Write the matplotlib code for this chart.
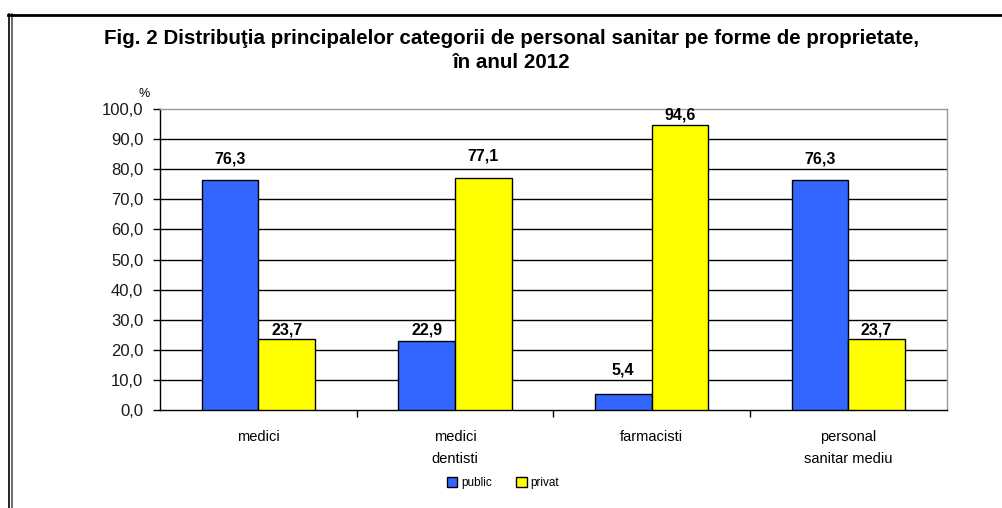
import matplotlib
matplotlib.use("Agg")
import matplotlib.pyplot as plt
from matplotlib.lines import Line2D
from matplotlib.patches import Patch
import numpy as np

categories = ["medici", "medici\ndentisti", "farmacisti", "personal\nsanitar mediu"]
public = [76.3, 22.9, 5.4, 76.3]
privat = [23.7, 77.1, 94.6, 23.7]
series_names = ["public", "privat"]
yticks = [0, 10, 20, 30, 40, 50, 60, 70, 80, 90, 100]

def fmt(v):
    return f"{v:.1f}".replace(".", ",")

plt.rcParams['font.family'] = ['Liberation Sans', 'DejaVu Sans']

fig = plt.figure(figsize=(10.02, 5.08), dpi=100)
ax = fig.add_axes([160/1002, 1-410/508, (946.5-160)/1002, (410-109)/508])

x = np.arange(len(categories))
w = 0.288
b1 = ax.bar(x - w/2, public, w, color="#3366FF", edgecolor="black", linewidth=1, zorder=3)
b2 = ax.bar(x + w/2, privat, w, color="#FFFF00", edgecolor="black", linewidth=1, zorder=3)

# label offsets above bar tops (points), as placed in the original
pub_off = [15.5, 8, 17, 15.5]
priv_off = [6.5, 16, 7.5, 6.5]
for bars, vals, offs in ((b1, public, pub_off), (b2, privat, priv_off)):
    for r, v, o in zip(bars, vals, offs):
        ax.annotate(fmt(v), (r.get_x() + r.get_width()/2, v), xytext=(0, o),
                    textcoords="offset points", ha="center", va="center",
                    fontsize=11.5, fontweight="bold", zorder=4)

ax.set_xlim(-0.5, len(categories) - 0.5)
ax.set_ylim(0, 100)
ax.set_yticks(yticks)
ax.set_yticklabels([fmt(t) for t in yticks], fontsize=12, color="#1a1a1a")
for t in yticks[1:-1]:
    ax.axhline(t, color="black", linewidth=1, zorder=1)

ax.set_xticks(np.arange(len(categories) - 1) + 0.5)
ax.set_xticklabels([])
ax.tick_params(axis="x", length=5, width=1, direction="out")
ax.tick_params(axis="y", length=5, width=1, direction="out", pad=7)
for i, c in enumerate(categories):
    ax.text(i, -6.5, c, ha="center", va="top", fontsize=10.5, linespacing=1.75)

ax.spines["top"].set_color("#999999")
ax.spines["right"].set_color("#999999")
ax.spines["left"].set_color("black")
ax.spines["bottom"].set_color("black")
for s in ax.spines.values():
    s.set_linewidth(1)

ax.text(-0.58, 103, "%", ha="center", va="bottom", fontsize=9)

fig.text(512/1002, 1-39/508, "Fig. 2 Distribuţia principalelor categorii de personal sanitar pe forme de proprietate,",
         ha="center", va="center", fontsize=14.8, fontweight="bold")
fig.text(512/1002, 1-63/508, "în anul 2012", ha="center", va="center", fontsize=14.8, fontweight="bold")

handles = [Patch(facecolor="#3366FF", edgecolor="black", linewidth=1),
           Patch(facecolor="#FFFF00", edgecolor="black", linewidth=1)]
fig.legend(handles, series_names, loc="center", bbox_to_anchor=(503/1002, 1-483/508),
           ncol=2, frameon=False, handlelength=0.9, handleheight=1.0,
           handletextpad=0.3, columnspacing=2.1, prop={'size': 8.5})

# outer frame (double lines)
for xx, col in ((8.5, "black"), (11.5, "#555555")):
    fig.add_artist(Line2D([xx/1002, xx/1002], [0, 1-14/508], transform=fig.transFigure, color=col, linewidth=1.2))
fig.add_artist(Line2D([8/1002, 1], [1-14.5/508, 1-14.5/508], transform=fig.transFigure, color="black", linewidth=2))

fig.savefig("out.png", dpi=100, facecolor="white")
